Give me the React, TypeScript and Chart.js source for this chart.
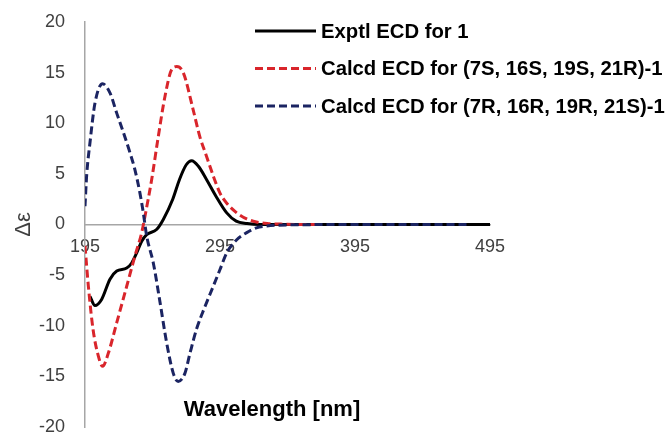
import React, { useEffect, useRef } from 'react';
import { Chart, registerables } from 'chart.js';

Chart.register(...registerables);

// Experimental ECD
const EXP_X = [198.7, 202.4, 207.3, 213.5, 218.5, 225.9, 229.6, 233.3, 237, 240.7, 248, 253, 260, 265, 270, 274, 279, 285, 292, 300, 307, 315, 325, 350, 400, 450, 495];
const EXP_Y = [-7.1, -8, -7.4, -5.4, -4.6, -4.3, -3.8, -2.8, -1.65, -1.0, -0.5, 0.5, 2.5, 4.45, 5.9, 6.3, 5.75, 4.45, 2.8, 1.15, 0.33, 0.1, 0, 0, 0, 0, 0];

// Calcd (7S,16S,19S,21R)
const RED_X = [195, 197.5, 201, 204.9, 208, 212.3, 218.5, 225.9, 232, 237, 239.4, 244.4, 249.3, 254.3, 259.2, 263, 267.8, 275, 280, 285, 290, 295, 300, 307.4, 314.8, 322, 330, 340, 355, 370];
const RED_Y = [-2.1, -6.1, -10.4, -13, -14, -12.7, -9.7, -6.1, -3.1, -0.8, 0.8, 4.45, 8.7, 12.7, 15.3, 15.6, 15, 11.4, 8.7, 6.75, 4.8, 3.1, 2.1, 1.15, 0.55, 0.25, 0.1, 0.04, 0, 0];

// Calcd (7R,16R,19R,21S)
const BLUE_X = [195, 196.2, 198.7, 202.4, 208, 213.5, 218.5, 223.4, 228.3, 232, 235.7, 238.2, 240.7, 245.6, 250.6, 255.5, 260.4, 264, 269, 272.8, 277.7, 283.9, 290, 295, 300, 307.4, 314.8, 322, 329.6, 350, 400, 480];
const BLUE_Y = [1.8, 4.8, 8.1, 12, 13.9, 13, 11, 9.1, 7.1, 5.4, 3.1, 1.15, -1.15, -3.8, -7.7, -11.7, -14.7, -15.5, -14.7, -12.7, -10.3, -8.1, -6.1, -4.45, -2.8, -1.5, -0.8, -0.33, -0.15, -0.03, 0, 0];

const SERIES_LABELS = [
  'Exptl ECD for 1',
  'Calcd ECD for (7S, 16S, 19S, 21R)-1',
  'Calcd ECD for (7R, 16R, 19R, 21S)-1',
];
const X_TICKS = [195, 295, 395, 495];
const Y_TICKS = [-20, -15, -10, -5, 0, 5, 10, 15, 20];
const X_TITLE = 'Wavelength [nm]';
const Y_TITLE = 'Δε';

const FONT = '"Liberation Sans", Arial, sans-serif';

export default function App() {
  const ref = useRef<HTMLCanvasElement>(null);

  useEffect(() => {
    if (!ref.current) return;
    const pts = (xs: number[], ys: number[]) => xs.map((x, i) => ({ x, y: ys[i] }));

    const overlay = {
      id: 'overlay',
      afterDraw(chart: any) {
        const ctx = chart.ctx as CanvasRenderingContext2D;
        ctx.save();
        chart.data.datasets.forEach((ds: any, i: number) => {
          const y = 31 + i * 37.5;
          ctx.beginPath();
          ctx.setLineDash(ds.borderDash || []);
          ctx.strokeStyle = ds.borderColor;
          ctx.lineWidth = 3;
          ctx.moveTo(255, y);
          ctx.lineTo(316, y);
          ctx.stroke();
          ctx.setLineDash([]);
          ctx.fillStyle = '#000';
          ctx.font = `bold 20.3px ${FONT}`;
          ctx.textBaseline = 'middle';
          ctx.textAlign = 'left';
          ctx.fillText(ds.label, 321, y + 1);
        });
        ctx.font = `bold 22px ${FONT}`;
        ctx.textAlign = 'center';
        ctx.textBaseline = 'middle';
        ctx.fillStyle = '#000';
        ctx.fillText(X_TITLE, 272, 410);
        ctx.restore();
      },
    };

    const chart = new Chart(ref.current, {
      type: 'line',
      data: {
        datasets: [
          {
            label: SERIES_LABELS[0],
            data: pts(EXP_X, EXP_Y),
            borderColor: '#000000',
            borderWidth: 3,
            pointRadius: 0,
            cubicInterpolationMode: 'monotone',
            order: 3,
          },
          {
            label: SERIES_LABELS[1],
            data: pts(RED_X, RED_Y),
            borderColor: '#D9252B',
            borderWidth: 3,
            borderDash: [8, 4],
            pointRadius: 0,
            cubicInterpolationMode: 'monotone',
            order: 2,
          },
          {
            label: SERIES_LABELS[2],
            data: pts(BLUE_X, BLUE_Y),
            borderColor: '#1B2462',
            borderWidth: 3,
            borderDash: [8, 4],
            pointRadius: 0,
            cubicInterpolationMode: 'monotone',
            order: 1,
          },
        ],
      },
      options: {
        animation: false,
        responsive: true,
        maintainAspectRatio: false,
        layout: { padding: { top: 22, right: 177, bottom: 8, left: 0 } },
        plugins: { legend: { display: false }, tooltip: { enabled: false } },
        scales: {
          x: {
            type: 'linear',
            position: { y: 0 } as any,
            min: 195,
            max: 495,
            afterBuildTicks: (s: any) => { s.ticks = X_TICKS.map((v) => ({ value: v })); },
            afterFit: (s: any) => { s.height = 0; },
            grid: { display: true, drawOnChartArea: false, drawTicks: false },
            border: { display: true, color: '#A6A6A6', width: 1.5 },
            ticks: { color: '#404040', font: { family: FONT, size: 18, lineHeight: 1 }, padding: 14, maxRotation: 0 },
          },
          y: {
            type: 'linear',
            min: -20,
            max: 20,
            afterBuildTicks: (s: any) => { s.ticks = Y_TICKS.map((v) => ({ value: v })); },
            afterFit: (s: any) => { s.width = 85; },
            grid: { display: true, drawOnChartArea: false, drawTicks: true, tickLength: 20, tickColor: 'rgba(0,0,0,0)' },
            border: { display: true, color: '#A6A6A6', width: 1.5 },
            ticks: { color: '#404040', font: { family: FONT, size: 18, lineHeight: 0.8 }, padding: 0 },
            title: { display: true, text: Y_TITLE, color: '#404040', font: { family: FONT, size: 22 }, padding: { top: 11, bottom: 0 } },
          },
        },
      },
      plugins: [overlay],
    });
    return () => chart.destroy();
  }, []);

  return (
    <div style={{ position: 'fixed', left: 0, top: 0, width: 667, height: 435, background: '#fff' }}>
      <canvas ref={ref} />
    </div>
  );
}
